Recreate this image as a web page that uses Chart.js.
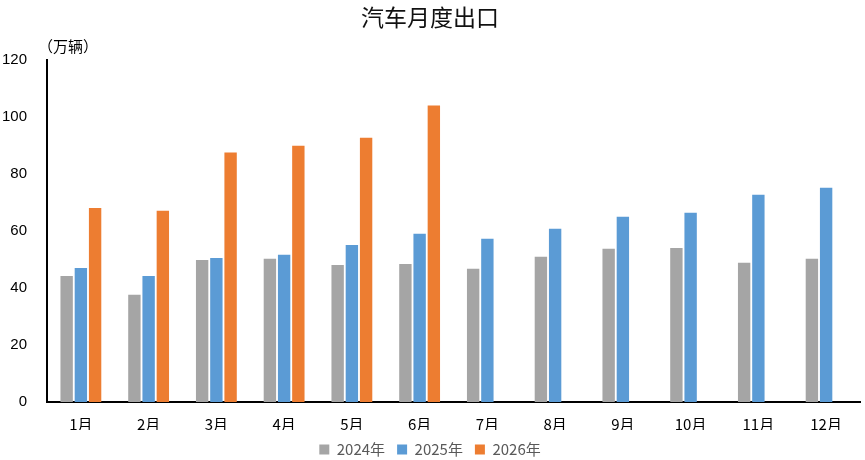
<!DOCTYPE html>
<html><head><meta charset="utf-8">
<script src="https://cdn.jsdelivr.net/npm/chart.js@4/dist/chart.umd.min.js"></script>
<style>html,body{margin:0;padding:0;background:#fff}#wrap{width:865px;height:460px}</style>
</head><body><div id="wrap"><canvas id="c" width="865" height="460"></canvas></div>
<script>
const categories = ['1月','2月','3月','4月','5月','6月','7月','8月','9月','10月','11月','12月'];
const series2024 = [44.2, 37.6, 49.8, 50.2, 48.0, 48.4, 46.7, 50.9, 53.7, 54.0, 48.8, 50.2];
const series2025 = [47.0, 44.2, 50.5, 51.6, 55.0, 59.0, 57.2, 60.7, 64.9, 66.3, 72.6, 75.1];
const series2026 = [68.0, 67.0, 87.4, 89.8, 92.6, 103.9, null, null, null, null, null, null];
const seriesNames = ['2024年','2025年','2026年'];
const yTicks = [0, 20, 40, 60, 80, 100, 120];
const titleText = '汽车月度出口';
const unitText = '（万辆）';

const FONT = "'Noto Sans CJK SC', 'Liberation Sans', sans-serif";
const unitPlugin = {
  id: 'unit',
  afterDraw(chart) {
    const ctx = chart.ctx, a = chart.chartArea;
    ctx.save();
    ctx.font = "15px " + FONT;
    ctx.fillStyle = '#000';
    ctx.textBaseline = 'middle';
    ctx.textAlign = 'left';
    ctx.fillText(unitText, a.left - 9, a.top - 13);
    ctx.restore();
  }
};

new Chart(document.getElementById('c'), {
  type: 'bar',
  data: {
    labels: categories,
    datasets: [
      {label: seriesNames[0], data: series2024, backgroundColor: '#A5A5A5'},
      {label: seriesNames[1], data: series2025, backgroundColor: '#5B9BD5'},
      {label: seriesNames[2], data: series2026, backgroundColor: '#ED7D31'}
    ]
  },
  options: {
    responsive: false,
    animation: false,
    devicePixelRatio: 1,
    categoryPercentage: 0.63,
    barPercentage: 0.87,
    layout: {padding: {left: 0, right: 5, top: 0, bottom: -7}},
    plugins: {
      title: {display: true, text: titleText, color: '#111',
        font: {family: FONT, size: 23, weight: 'normal'}, padding: {top: 3, bottom: 29}},
      legend: {position: 'bottom',
        labels: {color: '#595959', font: {family: FONT, size: 15}, boxWidth: 10, boxHeight: 10, padding: 12}},
      tooltip: {enabled: false}
    },
    scales: {
      x: {
        afterFit(axis) { axis.height -= 16; },
        grid: {display: false, drawTicks: false},
        border: {display: true, color: '#000', width: 2},
        ticks: {color: '#000', font: {family: FONT, size: 15}, padding: 13}
      },
      y: {
        min: 0, max: 120,
        afterBuildTicks(axis) { axis.ticks = yTicks.map(v => ({value: v})); },
        afterFit(axis) { axis.width = 47; },
        grid: {display: false, drawTicks: false},
        border: {display: true, color: '#000', width: 2},
        ticks: {color: '#000', font: {family: 'Liberation Sans', size: 15}, padding: 20}
      }
    }
  },
  plugins: [unitPlugin]
});
</script>
</body></html>
